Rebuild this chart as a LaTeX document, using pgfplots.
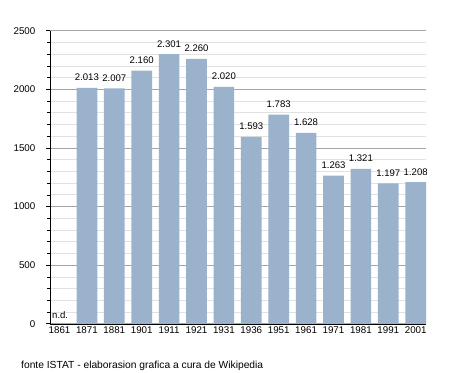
\documentclass[border=0pt]{standalone}
\usepackage{fontspec}
\setmainfont{Liberation Sans}
\usepackage{pgfplots}
\pgfplotsset{compat=1.18}
\definecolor{barc}{RGB}{154,178,203}
\definecolor{majg}{RGB}{165,165,165}
\definecolor{ming}{RGB}{225,225,225}
\begin{document}
\begin{tikzpicture}
\path[use as bounding box] (-50bp,-49.3bp) rectangle (405bp,293bp+30.7bp);
\begin{axis}[
  scale only axis,
  width=376bp, height=293bp,
  xmin=-0.347, xmax=13.376,
  ymin=0, ymax=2500,
  axis x line=bottom, axis y line=left,
  axis line style={black, -},
  xtick={0,...,13},
  xticklabels={1861,1871,1881,1901,1911,1921,1931,1936,1951,1961,1971,1981,1991,2001},
  x tick style={draw=none},
  ytick={0,500,...,2500},
  minor ytick={100,200,...,2400},
  ymajorgrids, yminorgrids,
  major grid style={majg, line width=0.6pt},
  minor grid style={ming, line width=0.6pt},
  y tick style={black, line width=0.5pt},
  major tick length=4bp, minor tick length=2.5bp,
  tick align=outside,
  /pgf/number format/assume math mode=true,
  /pgf/number format/1000 sep={},
  tick label style={font=\fontsize{9.8}{11}\selectfont},
  yticklabel style={anchor=east, inner sep=0pt, xshift=-10.5bp},
  xticklabel style={anchor=north, inner sep=0pt, yshift=1bp},
  clip=false,
]
\addplot[ybar, bar width=0.755, fill=barc, draw=none,
  nodes near coords, point meta=explicit symbolic,
  nodes near coords style={font=\fontsize{9.6}{11}\selectfont, black, anchor=base, inner sep=0pt, yshift=7bp}] coordinates {
 (1,2013)[2.013] (2,2007)[2.007] (3,2160)[2.160] (4,2301)[2.301] (5,2260)[2.260]
 (6,2020)[2.020] (7,1593)[1.593] (8,1783)[1.783] (9,1628)[1.628] (10,1263)[1.263]
 (11,1321)[1.321] (12,1197)[1.197] (13,1208)[1.208]
};
\addplot[draw=none, mark=none,
  nodes near coords, point meta=explicit symbolic,
  nodes near coords style={font=\fontsize{9.6}{11}\selectfont, black, anchor=base west, inner sep=0pt, yshift=5.7bp}] coordinates {(-0.274,0)[n.d.]};
\node[anchor=west, font=\fontsize{10.3}{12}\selectfont, inner sep=0pt] at (rel axis cs:0,0) [xshift=-29bp, yshift=-42bp] {fonte ISTAT - elaborasion grafica a cura de Wikipedia};
\end{axis}
\end{tikzpicture}
\end{document}
